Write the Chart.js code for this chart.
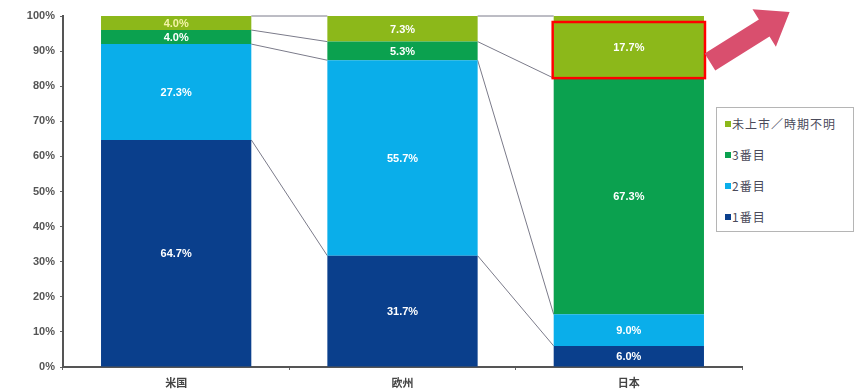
<!DOCTYPE html>
<html>
<head>
<meta charset="utf-8">
<script src="https://cdn.jsdelivr.net/npm/chart.js@4"></script>
<style>
  html, body { margin: 0; padding: 0; background: #fff; }
  #wrap { position: relative; width: 856px; height: 392px; }
  #legend {
    position: absolute; left: 716px; top: 107px; width: 138px; height: 125px;
    border: 1px solid #b5b5b5; box-sizing: border-box; background: #fff;
    font-family: "Noto Sans CJK JP", sans-serif; font-size: 12px; color: #4a4a5a;
    padding: 8px 0 0 8px;
  }
  #legend div { height: 31px; line-height: 16px; white-space: nowrap; letter-spacing: 1px; }
  #legend span.sw { display: inline-block; width: 6px; height: 6px; margin-right: 1px; vertical-align: 2px; }
</style>
</head>
<body>
<div id="wrap">
  <canvas id="myChart" width="856" height="392"></canvas>
  <div id="legend"></div>
</div>
<script>
const categories = ['米国', '欧州', '日本'];
const seriesNames = ['1番目', '2番目', '3番目', '未上市／時期不明'];
const first = [64.7, 31.7, 6.0];
const second = [27.3, 55.7, 9.0];
const third = [4.0, 5.3, 67.3];
const unknown = [4.0, 7.3, 17.7];
const colors = ['#0a3f8c', '#0aaeea', '#0ba14f', '#8cb81a'];
const yTicks = [0, 10, 20, 30, 40, 50, 60, 70, 80, 90, 100];

const values = [first, second, third, unknown];

// white percentage text in the middle of each segment
const segmentLabels = {
    id: 'segmentLabels',
    afterDatasetsDraw(chart) {
        const ctx = chart.ctx;
        ctx.save();
        ctx.font = 'bold 11px "Liberation Sans", Arial, sans-serif';
        ctx.textAlign = 'center';
        ctx.textBaseline = 'middle';
        chart.data.datasets.forEach((ds, i) => {
            chart.getDatasetMeta(i).data.forEach((bar, j) => {
                ctx.fillStyle = (i === 3 && j === 0) ? '#f4f3a8' : '#ffffff';
                ctx.fillText(ds.data[j].toFixed(1) + '%', bar.x, (bar.y + bar.base) / 2 + 1);
            });
        });
        ctx.restore();
    }
};

// thin lines joining segment tops from one bar to the next
const connectors = {
    id: 'connectors',
    beforeDatasetsDraw(chart) {
        const ctx = chart.ctx;
        ctx.save();
        ctx.strokeStyle = '#7b7b8a';
        ctx.lineWidth = 1;
        chart.data.datasets.forEach((ds, i) => {
            const bars = chart.getDatasetMeta(i).data;
            for (let j = 0; j < bars.length - 1; j++) {
                const a = bars[j], b = bars[j + 1];
                ctx.beginPath();
                ctx.moveTo(a.x + a.width / 2, a.y);
                ctx.lineTo(b.x - b.width / 2, b.y);
                ctx.stroke();
            }
        });
        ctx.restore();
    }
};

// red frame on the 日本 top segment plus the pink arrow beside it
const highlight = {
    id: 'highlight',
    afterDraw(chart) {
        const ctx = chart.ctx;
        const bar = chart.getDatasetMeta(3).data[2];
        const left = bar.x - bar.width / 2, right = bar.x + bar.width / 2;
        ctx.save();
        ctx.strokeStyle = '#ff0000';
        ctx.lineWidth = 2.5;
        ctx.strokeRect(left - 1, bar.y + 6, bar.width + 2, bar.base - bar.y - 6);

        ctx.translate(right + 6, bar.y + 46);
        ctx.rotate(-0.56);
        ctx.fillStyle = '#d94f6e';
        ctx.beginPath();
        ctx.moveTo(0, -10);
        ctx.lineTo(64, -10);
        ctx.lineTo(64, -22);
        ctx.lineTo(94, 0);
        ctx.lineTo(64, 22);
        ctx.lineTo(64, 10);
        ctx.lineTo(0, 10);
        ctx.closePath();
        ctx.fill();
        ctx.restore();
    }
};

const chart = new Chart(document.getElementById('myChart'), {
    type: 'bar',
    data: {
        labels: categories,
        datasets: values.map((v, i) => ({
            label: seriesNames[i],
            data: v,
            backgroundColor: colors[i],
            borderWidth: 0,
            barPercentage: 0.664,
            categoryPercentage: 1.0
        }))
    },
    options: {
        responsive: false,
        animation: false,
        layout: { padding: { top: 16, right: 114, left: 0, bottom: 0 } },
        plugins: {
            legend: { display: false },
            tooltip: { enabled: false }
        },
        scales: {
            x: {
                stacked: true,
                grid: { display: true, drawOnChartArea: false, offset: true, tickLength: 3, color: '#666' },
                border: { color: '#555', width: 2 },
                ticks: {
                    color: '#444',
                    font: { family: '"Noto Sans CJK JP", sans-serif', size: 11, weight: 'bold' },
                    padding: 6
                },
                afterFit(scale) { scale.height = 25; }
            },
            y: {
                stacked: true,
                min: 0,
                max: 100,
                afterBuildTicks(scale) { scale.ticks = yTicks.map(v => ({ value: v })); },
                grid: { display: true, drawOnChartArea: false, tickLength: 3, color: '#666' },
                border: { color: '#555', width: 2 },
                ticks: {
                    color: '#555',
                    font: { family: '"Liberation Sans", Arial, sans-serif', size: 11, weight: 'bold' },
                    padding: 5,
                    callback: function(value) {
                        return value + '%';
                    }
                },
                afterFit(scale) { scale.width = 63; }
            }
        }
    },
    plugins: [connectors, segmentLabels, highlight]
});

// legend box, top entry first
const legendEl = document.getElementById('legend');
chart.data.datasets.slice().reverse().forEach(ds => {
    const row = document.createElement('div');
    const sw = document.createElement('span');
    sw.className = 'sw';
    sw.style.background = ds.backgroundColor;
    row.appendChild(sw);
    row.appendChild(document.createTextNode(ds.label));
    legendEl.appendChild(row);
});
</script>
</body>
</html>
